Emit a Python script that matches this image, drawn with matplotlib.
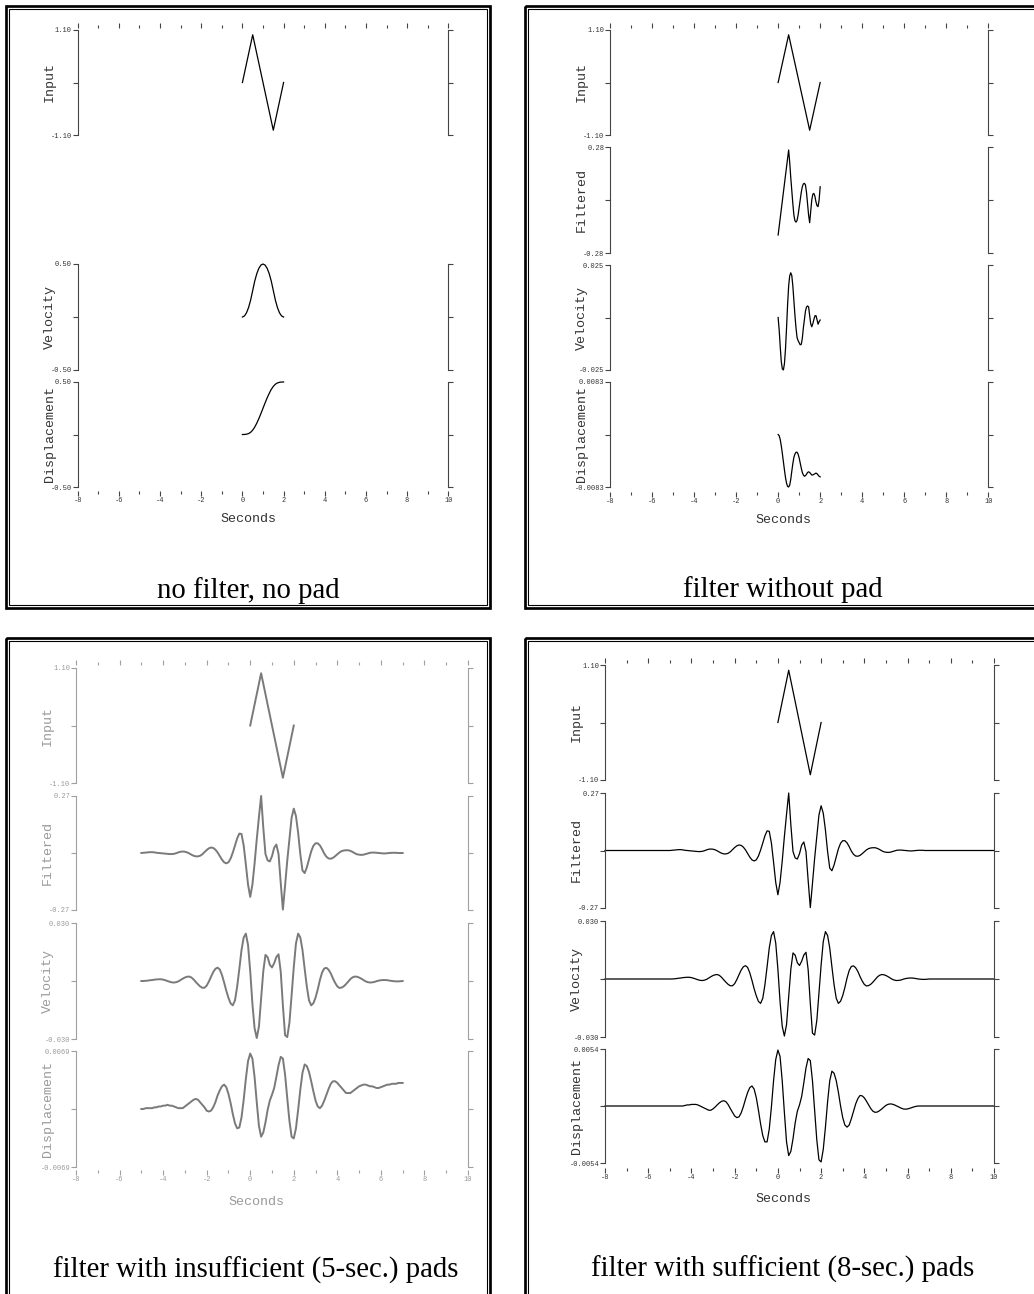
import numpy as np
import matplotlib.pyplot as plt
from matplotlib.patches import Rectangle

# ---------------- data ----------------
# input pulse (same in all four panels)
input_t = [0.0, 0.5, 1.5, 2.0]
input_v = [0.0, 1.0, -1.0, 0.0]

# no filter, no pad (0.1 s samples, 0..2 s)
t_raw = np.round(np.arange(0.0, 2.001, 0.1), 1)
raw_velocity = [0.0, 0.01, 0.04, 0.09, 0.16, 0.25, 0.34, 0.41, 0.46, 0.49, 0.50,
                0.49, 0.46, 0.41, 0.34, 0.25, 0.16, 0.09, 0.04, 0.01, 0.0]
raw_displacement = [0.0, 0.0003, 0.003, 0.009, 0.021, 0.042, 0.071, 0.109, 0.152, 0.200, 0.250,
                    0.300, 0.348, 0.391, 0.429, 0.458, 0.479, 0.491, 0.497, 0.4997, 0.5]

# filter without pad (0.05 s samples, 0..2 s)
t_short = np.round(np.arange(0.0, 2.001, 0.05), 2)
nopad_filtered = [-0.185, -0.140, -0.095, -0.050, -0.005, 0.040, 0.085, 0.130, 0.175, 0.220,
                  0.264, 0.200, 0.120, 0.050, -0.020, -0.080, -0.110, -0.117, -0.108, -0.080,
                  -0.040, 0.000, 0.040, 0.070, 0.085, 0.088, 0.080, 0.040, -0.020, -0.080,
                  -0.120, -0.060, 0.000, 0.030, 0.035, 0.020, -0.010, -0.030, -0.035, 0.000,
                  0.070]
nopad_velocity = [0.0, -0.006, -0.014, -0.021, -0.0245, -0.025, -0.022, -0.015, -0.005, 0.006,
                  0.015, 0.0198, 0.0213, 0.020, 0.015, 0.008, 0.001, -0.005, -0.0095, -0.011,
                  -0.012, -0.013, -0.0128, -0.010, -0.005, -0.001, 0.003, 0.005, 0.0055, 0.005,
                  0.001, -0.003, -0.0044, -0.003, -0.001, 0.0008, 0.0009, -0.001, -0.0032, -0.002,
                  -0.0012]
nopad_displacement = [0.0, -0.0002, -0.0008, -0.0018, -0.003, -0.0043, -0.0056, -0.0068, -0.0077, -0.0082,
                      -0.0083, -0.0080, -0.0071, -0.0058, -0.0046, -0.0036, -0.0031, -0.0028, -0.0028, -0.0031,
                      -0.0037, -0.0045, -0.0053, -0.0060, -0.0064, -0.0066, -0.0065, -0.0063, -0.0060, -0.0059,
                      -0.0060, -0.0062, -0.0064, -0.0064, -0.0063, -0.0062, -0.0061, -0.0062, -0.0064, -0.0066,
                      -0.0067]

# padded records (0.1 s samples, -5..7 s)
t_pad = np.round(np.arange(-5.0, 7.001, 0.1), 1)
pad_filtered = [
    0.000, 0.001, 0.002, 0.003, 0.004, 0.004, 0.003, 0.001, 0.000, -0.001,
    -0.002, -0.003, -0.004, -0.005, -0.005, -0.004, -0.001, 0.003, 0.006, 0.007,
    0.006, 0.003, -0.002, -0.008, -0.013, -0.016, -0.016, -0.013, -0.006, 0.004,
    0.014, 0.022, 0.026, 0.024, 0.016, 0.003, -0.014, -0.031, -0.044, -0.049,
    -0.044, -0.026, 0.002, 0.035, 0.069, 0.092, 0.090, 0.035, -0.055, -0.150,
    -0.208, -0.150, -0.050, 0.065, 0.170, 0.270, 0.120, -0.005, -0.035, -0.040,
    -0.015, 0.025, 0.040, -0.005, -0.140, -0.268, -0.155, -0.037, 0.065, 0.167,
    0.210, 0.175, 0.096, -0.005, -0.083, -0.095, -0.068, -0.030, 0.008, 0.034,
    0.046, 0.046, 0.036, 0.018, -0.003, -0.018, -0.026, -0.027, -0.023, -0.015,
    -0.006, 0.003, 0.009, 0.012, 0.013, 0.013, 0.010, 0.005, -0.001, -0.006,
    -0.008, -0.009, -0.008, -0.005, -0.002, 0.001, 0.002, 0.002, 0.001, 0.000,
    -0.001, -0.002, -0.002, -0.001, 0.000, 0.001, 0.001, 0.001, 0.000, 0.000,
    0.000]
pad_velocity = [
    0.0, 0.0, 0.0001, 0.0002, 0.0004, 0.0005, 0.0007, 0.0008, 0.0009, 0.0009,
    0.0007, 0.0004, 0.0000, -0.0004, -0.0007, -0.0008, -0.0006, -0.0002, 0.0005, 0.0012,
    0.0018, 0.0022, 0.0023, 0.0018, 0.0008, -0.0005, -0.0017, -0.0028, -0.0035, -0.0035,
    -0.0024, -0.0003, 0.0022, 0.0046, 0.0063, 0.0069, 0.0060, 0.0032, -0.0007, -0.0050,
    -0.0087, -0.0116, -0.0126, -0.0100, -0.0030, 0.0063, 0.0160, 0.0225, 0.0245, 0.0186,
    0.0051, -0.0117, -0.0244, -0.0295, -0.0236, -0.0091, 0.0051, 0.0135, 0.0123, 0.0084,
    0.0070, 0.0092, 0.0124, 0.0138, 0.0049, -0.0126, -0.0280, -0.0290, -0.0216, -0.0074,
    0.0072, 0.0194, 0.0245, 0.0225, 0.0160, 0.0063, -0.0030, -0.0100, -0.0126, -0.0115,
    -0.0086, -0.0044, 0.0005, 0.0044, 0.0065, 0.0068, 0.0058, 0.0039, 0.0013, -0.0010,
    -0.0028, -0.0036, -0.0034, -0.0027, -0.0016, -0.0003, 0.0010, 0.0019, 0.0023, 0.0022,
    0.0018, 0.0012, 0.0005, -0.0002, -0.0006, -0.0008, -0.0007, -0.0005, -0.0001, 0.0002,
    0.0004, 0.0005, 0.0005, 0.0004, 0.0002, 0.0000, -0.0001, -0.0002, -0.0002, -0.0001,
    0.0]
# 5-sec pads: displacement drifts upward
pad5_displacement = [
    0.0000, 0.0000, 0.0001, 0.0001, 0.0001, 0.0001, 0.0002, 0.0002, 0.0003, 0.0003,
    0.0004, 0.0004, 0.0005, 0.0004, 0.0004, 0.0003, 0.0002, 0.0001, 0.0001, 0.0001,
    0.0003, 0.0005, 0.0007, 0.0009, 0.0011, 0.0012, 0.0011, 0.0008, 0.0005, 0.0002,
    -0.0002, -0.0003, -0.0002, 0.0002, 0.0008, 0.0016, 0.0022, 0.0027, 0.0029, 0.0026,
    0.0018, 0.0007, -0.0006, -0.0017, -0.0023, -0.0022, -0.0010, 0.0011, 0.0036, 0.0057,
    0.0066, 0.0060, 0.0038, 0.0008, -0.0020, -0.0033, -0.0028, -0.0016, -0.0001, 0.0010,
    0.0017, 0.0025, 0.0038, 0.0052, 0.0062, 0.0060, 0.0041, 0.0013, -0.0014, -0.0033,
    -0.0035, -0.0023, -0.0001, 0.0023, 0.0043, 0.0053, 0.0051, 0.0044, 0.0033, 0.0021,
    0.0010, 0.0003, 0.0001, 0.0004, 0.0010, 0.0017, 0.0024, 0.0030, 0.0033, 0.0033,
    0.0031, 0.0028, 0.0025, 0.0022, 0.0019, 0.0019, 0.0019, 0.0021, 0.0023, 0.0025,
    0.0027, 0.0028, 0.0029, 0.0029, 0.0028, 0.0027, 0.0027, 0.0026, 0.0025, 0.0025,
    0.0026, 0.0027, 0.0028, 0.0029, 0.0029, 0.0030, 0.0030, 0.0030, 0.0031, 0.0031,
    0.0031]
# 8-sec pads: displacement settles back to zero
pad8_displacement = [
    0.0, 0.0, 0.0, 0.0, 0.0, 0.0, 0.0, 0.00005, 0.0001, 0.0001,
    0.00015, 0.00015, 0.00015, 0.0001, 0.0, -0.0001, -0.0002, -0.0003, -0.0004, -0.0004,
    -0.00027, -0.00009, 0.00012, 0.00031, 0.00045, 0.0005, 0.0004, 0.00013, -0.00025, -0.0006,
    -0.00094, -0.0011, -0.00103, -0.00066, -0.00007, 0.00064, 0.00128, 0.00174, 0.0019, 0.0016,
    0.0008, -0.0004, -0.0017, -0.0028, -0.0034, -0.0034, -0.0022, -0.0001, 0.0024, 0.0044,
    0.0053, 0.0047, 0.0024, -0.0006, -0.0034, -0.0047, -0.0043, -0.0031, -0.0016, -0.0005,
    0.0001, 0.0009, 0.0022, 0.0036, 0.0045, 0.0043, 0.0024, -0.0004, -0.0032, -0.0051,
    -0.0053, -0.0041, -0.0020, 0.0004, 0.0024, 0.0033, 0.0031, 0.0024, 0.0013, 0.0000,
    -0.0011, -0.0018, -0.0020, -0.0018, -0.0012, -0.0005, 0.0002, 0.0007, 0.0010, 0.00096,
    0.00077, 0.00045, 0.0001, -0.00025, -0.0005, -0.0006, -0.00057, -0.00045, -0.00029, -0.00011,
    0.00006, 0.00016, 0.0002, 0.00017, 0.0001, 0.0, -0.0001, -0.0002, -0.00028, -0.0003,
    -0.00028, -0.00022, -0.00015, -0.00008, -0.00003, 0.0, 0.0, 0.0, 0.0, 0.0,
    0.0]
# 8-sec pad traces run flat out to the plot edges
t_full = np.concatenate([[-8.0], t_pad, [10.0]])

x_major = [-8, -6, -4, -2, 0, 2, 4, 6, 8, 10]
x_minor = [-7, -5, -3, -1, 1, 3, 5, 7, 9]

captions = ["no filter, no pad", "filter without pad",
            "filter with insufficient (5-sec.) pads", "filter with sufficient (8-sec.) pads"]

# ---------------- figure ----------------
W, H = 1034, 1294
PT = 0.72  # points per pixel at dpi 100
MONO = "Liberation Mono"
SERIF = "Liberation Serif"

fig = plt.figure(figsize=(W / 100, H / 100), dpi=100)
bg = fig.add_axes([0, 0, 1, 1])
bg.set_xlim(0, W)
bg.set_ylim(H, 0)
bg.axis("off")


def add_ax(x0, x1, y0, y1):
    # pixel box (y downwards) -> figure axes
    return fig.add_axes([x0 / W, 1 - y1 / H, (x1 - x0) / W, (y1 - y0) / H])


def frame(x0, y0, x1, y1):
    # thick outer rule + thin inner rule
    bg.add_patch(Rectangle((x0, y0), x1 - x0, y1 - y0, fill=False, lw=2.7 * PT, ec="black"))
    bg.add_patch(Rectangle((x0 + 3, y0 + 3), x1 - x0 - 6, y1 - y0 - 6, fill=False, lw=1.1 * PT, ec="black"))


def panel(xl, xr, tick_top, tick_bot, traces, cx, sec_y, cap, cap_y,
          line="black", spine="#444444", txt="#333333", lw=0.9):
    # x ticks above and below the stack
    fa = add_ax(xl, xr, tick_top, tick_bot)
    fa.patch.set_visible(False)
    for s in fa.spines.values():
        s.set_visible(False)
    fa.set_xlim(-8, 10)
    fa.set_yticks([])
    fa.set_xticks(x_major)
    fa.set_xticks(x_minor, minor=True)
    fa.set_xticklabels([str(v) for v in x_major], family=MONO, fontsize=5)
    fa.tick_params(axis="x", which="both", direction="out", top=True, bottom=True,
                   labeltop=False, color=spine, labelcolor=txt, width=0.8, pad=1)
    fa.tick_params(axis="x", which="major", length=5 * PT)
    fa.tick_params(axis="x", which="minor", length=2.8 * PT)

    for name, y0, y1, lim, lab, tt, vv in traces:
        ax = add_ax(xl, xr, y0, y1)
        ax.patch.set_visible(False)
        ax.set_xlim(-8, 10)
        ax.set_ylim(-lim, lim)
        ax.plot(tt, vv, color=line, lw=lw, clip_on=False)
        ax.spines["top"].set_visible(False)
        ax.spines["bottom"].set_visible(False)
        for side in ("left", "right"):
            ax.spines[side].set_color(spine)
            ax.spines[side].set_linewidth(0.8)
        ax.set_xticks([])
        ax.set_yticks([-lim, 0, lim])
        ax.set_yticklabels(["-" + lab, "", lab], family=MONO, fontsize=5)
        ax.tick_params(axis="y", left=True, right=True, direction="out", length=5 * PT,
                       width=0.8, color=spine, labelcolor=txt, pad=0.5)
        bg.text(xl - 28, (y0 + y1) / 2, name, rotation=90, ha="center", va="center",
                family=MONO, fontsize=9.6, color=txt)

    bg.text(cx, sec_y, "Seconds", ha="center", va="center", family=MONO, fontsize=9.6, color=txt)
    bg.text(cx, cap_y, cap, ha="center", va="baseline", family=SERIF, fontsize=20.7, color="black")


# frames
frame(6.2, 6.2, 490.3, 608.2)
frame(524.8, 6.2, 1046, 608.2)
frame(6.2, 638, 489.5, 1310)
frame(524.8, 638, 1046, 1310)

# top left: no filter, no pad
panel(77.7, 448.3, 27.5, 491, [
    ("Input", 30, 135, 1.10, "1.10", input_t, input_v),
    ("Velocity", 264, 370, 0.50, "0.50", t_raw, raw_velocity),
    ("Displacement", 382, 487, 0.50, "0.50", t_raw, raw_displacement),
], 248, 519, captions[0], 598)

# top right: filter without pad
panel(610, 988.3, 27.5, 491.5, [
    ("Input", 30, 135, 1.10, "1.10", input_t, input_v),
    ("Filtered", 147, 253, 0.28, "0.28", t_short, nopad_filtered),
    ("Velocity", 265, 370, 0.025, "0.025", t_short, nopad_velocity),
    ("Displacement", 382, 487, 0.0083, "0.0083", t_short, nopad_displacement),
], 783, 520, captions[1], 597)

# bottom left: 5-sec pads (blurry, greyish copy)
panel(76, 468, 665, 1170, [
    ("Input", 668, 783, 1.10, "1.10", input_t, input_v),
    ("Filtered", 796, 910, 0.27, "0.27", t_pad, pad_filtered),
    ("Velocity", 923, 1039, 0.030, "0.030", t_pad, pad_velocity),
    ("Displacement", 1051, 1167, 0.0069, "0.0069", t_pad, pad5_displacement),
], 256, 1202, captions[2], 1278,
      line="#7a7a7a", spine="#a0a0a0", txt="#9a9a9a", lw=1.4)

# bottom right: 8-sec pads
panel(605, 994, 662.7, 1168, [
    ("Input", 665, 780, 1.10, "1.10", input_t, input_v),
    ("Filtered", 793, 908, 0.27, "0.27", t_full, np.concatenate([[0.0], pad_filtered, [0.0]])),
    ("Velocity", 921, 1037, 0.030, "0.030", t_full, np.concatenate([[0.0], pad_velocity, [0.0]])),
    ("Displacement", 1049, 1163, 0.0054, "0.0054", t_full, np.concatenate([[0.0], pad8_displacement, [0.0]])),
], 783, 1199, captions[3], 1277)

fig.savefig("out.png", dpi=100)
